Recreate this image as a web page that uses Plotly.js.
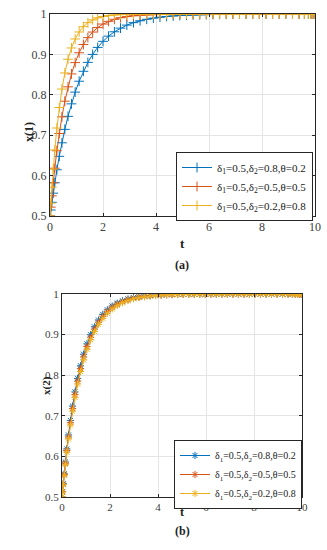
<!DOCTYPE html>
<html><head><meta charset="utf-8">
<script src="https://cdn.plot.ly/plotly-3.0.1.min.js"></script>
<style>html,body{margin:0;padding:0;background:#fff}#chart{width:327px;height:550px}</style>
</head><body><div id="chart"></div>
<script>
// ----- data: panel (a), x(1) -----
const tA = [0, 0.03, 0.07, 0.12, 0.18, 0.26, 0.35, 0.45, 0.56, 0.68, 0.81, 0.95, 1.1, 1.26, 1.43, 1.61, 1.8, 2.0, 2.21, 2.43, 2.66, 2.9, 3.15, 3.4, 3.65, 3.9, 4.15, 4.4, 4.65, 4.9, 5.15, 5.4, 5.65, 5.9, 6.15, 6.4, 6.65, 6.9, 7.15, 7.4, 7.65, 7.9, 8.15, 8.4, 8.65, 8.9, 9.15, 9.4, 9.6, 9.75, 9.85, 9.93, 10];
const a1 = [0.5, 0.5148, 0.5338, 0.5565, 0.5823, 0.6145, 0.6477, 0.6812, 0.7144, 0.7467, 0.7776, 0.8066, 0.8336, 0.8582, 0.8803, 0.9000, 0.9173, 0.9323, 0.9452, 0.9560, 0.9650, 0.9725, 0.9786, 0.9833, 0.9870, 0.9899, 0.9921, 0.9939, 0.9952, 0.9963, 0.9971, 0.9977, 0.9982, 0.9986, 0.9989, 0.9992, 0.9994, 0.9995, 0.9996, 0.9997, 0.9998, 0.9998, 0.9999, 1, 1, 1, 1, 1, 1, 1, 1, 1, 1];
const a2 = [0.5, 0.522, 0.5499, 0.5823, 0.6183, 0.6615, 0.7042, 0.7454, 0.7842, 0.8197, 0.8517, 0.8797, 0.9040, 0.9245, 0.9415, 0.9553, 0.9664, 0.9751, 0.9818, 0.9869, 0.9908, 0.9935, 0.9956, 0.9970, 0.9979, 0.9986, 0.9990, 0.9993, 0.9995, 0.9997, 0.9998, 0.9998, 0.9999, 1, 1, 1, 1, 1, 1, 1, 1, 1, 1, 1, 1, 1, 1, 1, 1, 1, 1, 1, 1];
const a3 = [0.5, 0.5319, 0.5714, 0.6160, 0.6635, 0.7178, 0.7685, 0.8142, 0.8541, 0.8880, 0.9159, 0.9382, 0.9555, 0.9687, 0.9785, 0.9855, 0.9905, 0.9939, 0.9961, 0.9976, 0.9986, 0.9992, 0.9995, 0.9997, 0.9998, 0.9999, 1, 1, 1, 1, 1, 1, 1, 1, 1, 1, 1, 1, 1, 1, 1, 1, 1, 1, 1, 1, 1, 1, 1, 1, 1, 1, 1];
// ----- data: panel (b), x(2) -----
const tB = [0, 0.02, 0.05, 0.09, 0.14, 0.2, 0.27, 0.35, 0.44, 0.54, 0.65, 0.77, 0.9, 1.04, 1.19, 1.35, 1.52, 1.7, 1.89, 2.09, 2.3, 2.52, 2.75, 2.98, 3.21, 3.44, 3.67, 3.9, 4.13, 4.36, 4.59, 4.82, 5.05, 5.28, 5.51, 5.74, 5.97, 6.2, 6.43, 6.66, 6.89, 7.12, 7.35, 7.58, 7.81, 8.04, 8.27, 8.5, 8.73, 8.96, 9.19, 9.42, 9.6, 9.72, 9.82, 9.9, 9.96, 10];
const b1 = [0.5, 0.5133, 0.5327, 0.5572, 0.5861, 0.6183, 0.6527, 0.6883, 0.7239, 0.7588, 0.7921, 0.8232, 0.8517, 0.8772, 0.8997, 0.9192, 0.9358, 0.9496, 0.9610, 0.9702, 0.9776, 0.9834, 0.9878, 0.9911, 0.9934, 0.9952, 0.9965, 0.9974, 0.9981, 0.9986, 0.9990, 0.9993, 0.9995, 0.9996, 0.9997, 0.9998, 0.9998, 0.9999, 1, 1, 1, 1, 1, 1, 1, 1, 1, 1, 1, 1, 1, 1, 1, 1, 1, 1, 1, 1];
const b2 = [0.5, 0.5128, 0.5315, 0.5552, 0.5832, 0.6145, 0.6480, 0.6828, 0.7178, 0.7522, 0.7852, 0.8162, 0.8448, 0.8707, 0.8936, 0.9136, 0.9307, 0.9452, 0.9572, 0.9670, 0.9749, 0.9811, 0.9860, 0.9896, 0.9923, 0.9943, 0.9958, 0.9969, 0.9977, 0.9983, 0.9987, 0.9990, 0.9993, 0.9995, 0.9996, 0.9997, 0.9998, 0.9998, 0.9999, 1, 1, 1, 1, 1, 1, 1, 1, 1, 1, 1, 1, 1, 1, 1, 1, 1, 1, 1];
const b3 = [0.5, 0.5123, 0.5303, 0.5532, 0.5803, 0.6106, 0.6432, 0.6772, 0.7115, 0.7454, 0.7782, 0.8091, 0.8377, 0.8637, 0.8871, 0.9075, 0.9252, 0.9403, 0.9529, 0.9633, 0.9718, 0.9786, 0.9839, 0.9880, 0.9910, 0.9932, 0.9949, 0.9962, 0.9971, 0.9979, 0.9984, 0.9988, 0.9991, 0.9993, 0.9995, 0.9996, 0.9997, 0.9998, 0.9998, 0.9999, 1, 1, 1, 1, 1, 1, 1, 1, 1, 1, 1, 1, 1, 1, 1, 1, 1, 1];
const seriesNames = ["δ<sub>1</sub>=0.5,δ<sub>2</sub>=0.8,θ=0.2", "δ<sub>1</sub>=0.5,δ<sub>2</sub>=0.5,θ=0.5", "δ<sub>1</sub>=0.5,δ<sub>2</sub>=0.2,θ=0.8"];
const xTicks = [0, 2, 4, 6, 8, 10];
const yTicks = [0.5, 0.6, 0.7, 0.8, 0.9, 1];

const colors = ["#0072BD", "#D95319", "#EDB120"];
const W = 327, H = 550;
const F = "Liberation Serif";

const traces = [];
[a1, a2, a3].forEach((ys, i) => traces.push({
  x: tA, y: ys, type: "scatter", mode: "lines+markers", name: seriesNames[i],
  xaxis: "x", yaxis: "y", legend: "legend",
  line: {color: colors[i], width: 1},
  marker: {symbol: "cross-thin-open", size: 7, line: {color: colors[i], width: 1}}
}));
[b1, b2, b3].forEach((ys, i) => traces.push({
  x: tB, y: ys, type: "scatter", mode: "lines+markers", name: seriesNames[i],
  xaxis: "x2", yaxis: "y2", legend: "legend2",
  line: {color: colors[i], width: 1},
  marker: {symbol: "asterisk-open", size: 6, line: {color: colors[i], width: 1}}
}));

function ax(extra, fs) {
  return Object.assign({
    range: [0, 10], showline: true, mirror: "ticks", linecolor: "#262626", linewidth: 1,
    ticks: "inside", ticklen: 3, tickcolor: "#262626", showgrid: true, gridcolor: "#e4e4e4",
    zeroline: false, tickfont: {family: F, size: fs, color: "#404040"}, fixedrange: true
  }, extra);
}
const px = v => v / W, py = v => 1 - v / H;

const layout = {
  width: W, height: H, margin: {l: 0, r: 0, t: 0, b: 0},
  paper_bgcolor: "#fff", plot_bgcolor: "#fff", showlegend: true,
  font: {family: F, size: 11, color: "#222"},
  xaxis: ax({domain: [px(50), px(315)], anchor: "y", tickvals: xTicks}, 12),
  yaxis: ax({domain: [py(216), py(14)], anchor: "x", range: [0.5, 1], tickvals: yTicks}, 12),
  xaxis2: ax({domain: [px(62), px(302)], anchor: "y2", tickvals: xTicks}, 11),
  yaxis2: ax({domain: [py(497), py(294)], anchor: "x2", range: [0.5, 1], tickvals: yTicks}, 11),
  legend: {x: px(313), xanchor: "right", y: py(152), yanchor: "top", bgcolor: "#fff",
    bordercolor: "#262626", borderwidth: 1, font: {family: F, size: 11, color: "#222"}, tracegroupgap: 0},
  legend2: {x: px(302), xanchor: "right", y: py(440), yanchor: "top", bgcolor: "#fff",
    bordercolor: "#262626", borderwidth: 1, font: {family: F, size: 10, color: "#222"}, tracegroupgap: 0},
  annotations: [
    {text: "<b>t</b>", x: px(182), y: py(244), xref: "paper", yref: "paper", showarrow: false, font: {family: F, size: 13, color: "#222"}},
    {text: "<b>(a)</b>", x: px(182), y: py(265), xref: "paper", yref: "paper", showarrow: false, font: {family: F, size: 12, color: "#222"}},
    {text: "<b>x(1)</b>", x: px(20), y: py(120), xref: "paper", yref: "paper", showarrow: false, textangle: -90, font: {family: F, size: 12, color: "#222"}},
    {text: "<b>t</b>", x: px(182), y: py(521), xref: "paper", yref: "paper", showarrow: false, font: {family: F, size: 12, color: "#222"}},
    {text: "<b>(b)</b>", x: px(182), y: py(540), xref: "paper", yref: "paper", showarrow: false, font: {family: F, size: 12, color: "#222"}},
    {text: "<b>x(2)</b>", x: px(38), y: py(397), xref: "paper", yref: "paper", showarrow: false, textangle: -90, font: {family: F, size: 11, color: "#222"}}
  ]
};
Plotly.newPlot("chart", traces, layout, {displayModeBar: false, staticPlot: true});
</script></body></html>
